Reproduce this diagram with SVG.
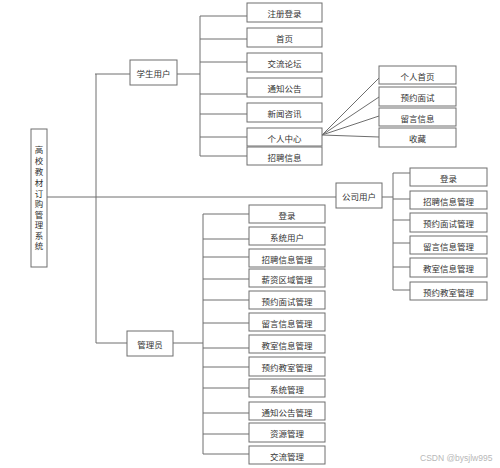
<svg xmlns="http://www.w3.org/2000/svg" width="500" height="468" viewBox="0 0 500 468">
<style>
.b{fill:#fff;stroke:#6e6e6e;stroke-width:1}
.t{font-family:"Noto Sans CJK SC","Liberation Sans",sans-serif;font-size:8.5px;fill:#333;text-anchor:middle;dominant-baseline:central}
.c{fill:none;stroke:#6e6e6e;stroke-width:1}
.w{font-family:"Liberation Sans",sans-serif;font-size:8.5px;fill:#b8b8b8}
</style>
<rect width="500" height="468" fill="#fff"/>
<g id="connectors">
<path class="c" d="M47,197H336 M96,74V343 M95,74H130 M177,74H200 M200,16V156 M200,16H247 M200,39H247 M200,62H247 M200,94H247 M200,114H247 M200,137H247 M200,156H247"/>
<path class="c" d="M322,135L379,78 M322,135L379,97 M322,135L379,116 M322,135L379,137"/>
<path class="c" d="M382,197H393 M393,173V290 M393,173H410 M393,199H410 M393,220H410 M393,243H410 M393,267H410 M393,290H410"/>
<path class="c" d="M96,343H127 M173,343H203 M203,214V454 M203,214H249 M203,239H249 M203,257H249 M203,279H249 M203,300H249 M203,323H249 M203,348H249 M203,367H249 M203,388H249 M203,413H249 M203,434H249 M203,454H249"/>
</g>
<g id="root"><rect class="b" x="31" y="129" width="16" height="138"/>
<text class="t" x="39" y="149">高</text><text class="t" x="39" y="160">校</text><text class="t" x="39" y="171">教</text><text class="t" x="39" y="182">材</text><text class="t" x="39" y="192.5">订</text><text class="t" x="39" y="203">购</text><text class="t" x="39" y="213.5">管</text><text class="t" x="39" y="224">理</text><text class="t" x="39" y="234.5">系</text><text class="t" x="39" y="245">统</text></g>
<g id="student"><rect class="b" x="130" y="60" width="47" height="25"/><text class="t" x="153.5" y="73">学生用户</text></g>
<g id="s1"><rect class="b" x="247" y="3" width="75" height="19"/><text class="t" x="284.5" y="13">注册登录</text></g>
<g id="s2"><rect class="b" x="247" y="28" width="75" height="19"/><text class="t" x="284.5" y="38">首页</text></g>
<g id="s3"><rect class="b" x="247" y="53" width="75" height="19"/><text class="t" x="284.5" y="63">交流论坛</text></g>
<g id="s4"><rect class="b" x="247" y="78" width="75" height="19"/><text class="t" x="284.5" y="88">通知公告</text></g>
<g id="s5"><rect class="b" x="247" y="103" width="75" height="19"/><text class="t" x="284.5" y="113">新闻咨讯</text></g>
<g id="s6"><rect class="b" x="247" y="128" width="75" height="18"/><text class="t" x="284.5" y="137.5">个人中心</text></g>
<g id="s7"><rect class="b" x="247" y="147" width="75" height="18"/><text class="t" x="284.5" y="156.5">招聘信息</text></g>
<g id="p1"><rect class="b" x="379" y="66" width="77" height="18"/><text class="t" x="417.5" y="75.5">个人首页</text></g>
<g id="p2"><rect class="b" x="379" y="87" width="77" height="19"/><text class="t" x="417.5" y="97">预约面试</text></g>
<g id="p3"><rect class="b" x="379" y="108" width="77" height="18"/><text class="t" x="417.5" y="117.5">留言信息</text></g>
<g id="p4"><rect class="b" x="379" y="128" width="77" height="19"/><text class="t" x="417.5" y="138">收藏</text></g>
<g id="company"><rect class="b" x="336" y="183" width="46" height="25"/><text class="t" x="359" y="196">公司用户</text></g>
<g id="c1"><rect class="b" x="410" y="168" width="77" height="18"/><text class="t" x="448.5" y="177.5">登录</text></g>
<g id="c2"><rect class="b" x="410" y="191" width="77" height="18"/><text class="t" x="448.5" y="200.5">招聘信息管理</text></g>
<g id="c3"><rect class="b" x="410" y="213" width="77" height="19"/><text class="t" x="448.5" y="223">预约面试管理</text></g>
<g id="c4"><rect class="b" x="410" y="236" width="77" height="18"/><text class="t" x="448.5" y="245.5">留言信息管理</text></g>
<g id="c5"><rect class="b" x="410" y="258" width="77" height="19"/><text class="t" x="448.5" y="268">教室信息管理</text></g>
<g id="c6"><rect class="b" x="410" y="282" width="77" height="18"/><text class="t" x="448.5" y="291.5">预约教室管理</text></g>
<g id="admin"><rect class="b" x="127" y="331" width="46" height="25"/><text class="t" x="150" y="344">管理员</text></g>
<g id="a1"><rect class="b" x="249" y="205" width="76" height="18"/><text class="t" x="287" y="214.5">登录</text></g>
<g id="a2"><rect class="b" x="249" y="227" width="76" height="18"/><text class="t" x="287" y="236.5">系统用户</text></g>
<g id="a3"><rect class="b" x="249" y="249" width="76" height="18"/><text class="t" x="287" y="258.5">招聘信息管理</text></g>
<g id="a4"><rect class="b" x="249" y="269" width="76" height="18"/><text class="t" x="287" y="278.5">薪资区域管理</text></g>
<g id="a5"><rect class="b" x="249" y="291" width="76" height="18"/><text class="t" x="287" y="300.5">预约面试管理</text></g>
<g id="a6"><rect class="b" x="249" y="313" width="76" height="18"/><text class="t" x="287" y="322.5">留言信息管理</text></g>
<g id="a7"><rect class="b" x="249" y="335" width="76" height="18"/><text class="t" x="287" y="344.5">教室信息管理</text></g>
<g id="a8"><rect class="b" x="249" y="357" width="76" height="19"/><text class="t" x="287" y="367">预约教室管理</text></g>
<g id="a9"><rect class="b" x="249" y="379" width="76" height="18"/><text class="t" x="287" y="388.5">系统管理</text></g>
<g id="a10"><rect class="b" x="249" y="402" width="76" height="18"/><text class="t" x="287" y="411.5">通知公告管理</text></g>
<g id="a11"><rect class="b" x="249" y="423" width="76" height="19"/><text class="t" x="287" y="433">资源管理</text></g>
<g id="a12"><rect class="b" x="249" y="446" width="76" height="18"/><text class="t" x="287" y="455.5">交流管理</text></g>
<text class="w" x="420" y="461">CSDN @bysjlw995</text>
</svg>
